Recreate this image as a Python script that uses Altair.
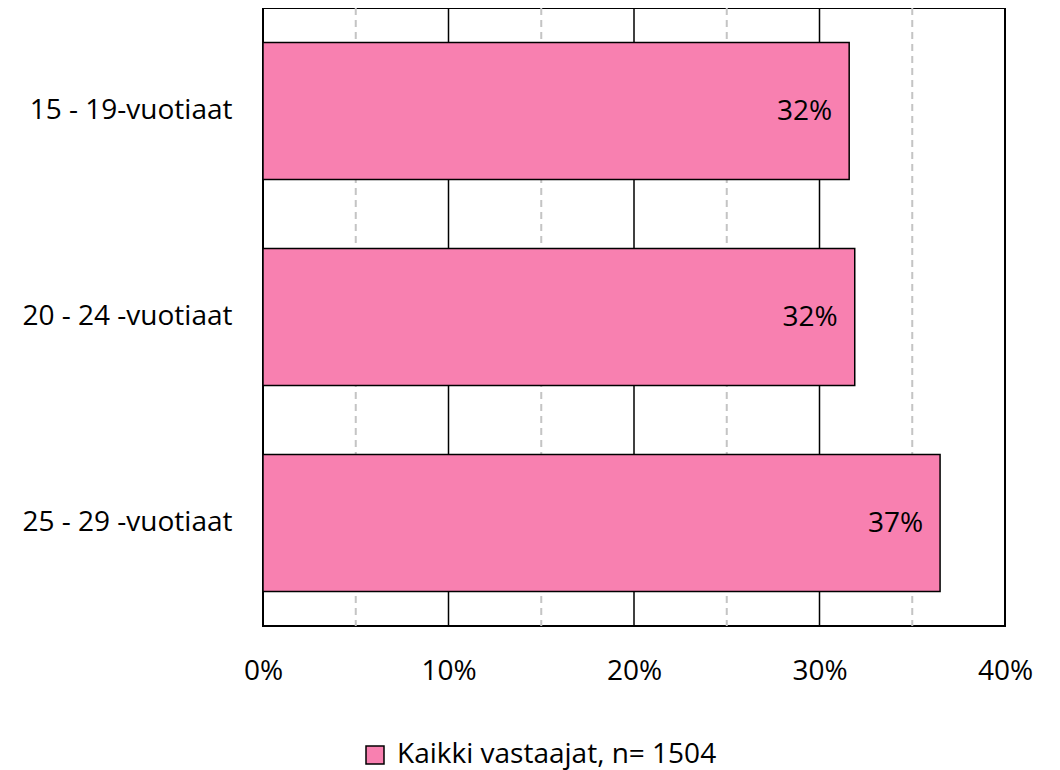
import altair as alt
import pandas as pd

categories = ["15 - 19-vuotiaat", "20 - 24 -vuotiaat", "25 - 29 -vuotiaat"]
values = [31.6, 31.9, 36.5]
labels = ["32%", "32%", "37%"]
series_name = "Kaikki vastaajat, n= 1504"
x_ticks = [0, 10, 20, 30, 40]
major_grid = [10, 20, 30]
minor_grid = [5, 15, 25, 35]

FONT = "Open Sans"
PINK = "#F880B0"

df = pd.DataFrame({"cat": categories, "val": values, "lab": labels, "series": [series_name] * 3})
major_df = pd.DataFrame({"g": major_grid})
minor_df = pd.DataFrame({"g": minor_grid})

xscale = alt.Scale(domain=[0, 40], nice=False, zero=True)
x_axis = alt.Axis(values=x_ticks, labelExpr="datum.value + '%'", domain=False, ticks=False,
                  grid=False, labelPadding=31, labelFontSize=28, labelFont=FONT,
                  labelColor="black", title=None, labelFlush=False, labelOverlap=False)
yscale = alt.Scale(domain=categories, paddingInner=0.336, paddingOuter=0.168)
y_axis = alt.Axis(domain=False, ticks=False, grid=False, labelPadding=31, labelFontSize=28,
                  labelFont=FONT, labelColor="black", title=None, labelLimit=400)

minor = alt.Chart(minor_df).mark_rule(color="#C4C4C4", strokeWidth=2, strokeDash=[7, 5]).encode(
    x=alt.X("g:Q", scale=xscale, axis=x_axis)
)
major = alt.Chart(major_df).mark_rule(color="black", strokeWidth=1.5).encode(
    x=alt.X("g:Q", scale=xscale, axis=x_axis)
)

bars = alt.Chart(df).mark_bar(stroke="black", strokeWidth=1.5).encode(
    y=alt.Y("cat:N", scale=yscale, axis=y_axis, sort=categories),
    x=alt.X("val:Q", scale=xscale, axis=x_axis),
    color=alt.Color("series:N", scale=alt.Scale(domain=[series_name], range=[PINK]),
                    legend=alt.Legend(title=None, orient="none", legendX=98, legendY=733,
                                      symbolType="square", symbolSize=324,
                                      symbolStrokeColor="black", symbolStrokeWidth=1.5,
                                      symbolOpacity=1, symbolFillColor=PINK,
                                      labelFontSize=28, labelFont=FONT, labelColor="black",
                                      labelOffset=8, labelLimit=500)),
)

text = alt.Chart(df).mark_text(align="right", baseline="middle", dx=-17, dy=1,
                               fontSize=28, font=FONT, color="black").encode(
    y=alt.Y("cat:N", scale=yscale, axis=y_axis, sort=categories),
    x=alt.X("val:Q", scale=xscale, axis=x_axis),
    text="lab:N",
)

chart = alt.layer(minor, major, bars, text).properties(
    width=742, height=618,
    background="white",
    autosize=alt.AutoSizeParams(type="none"),
    padding={"left": 255, "top": 0, "right": 30, "bottom": 170},
).configure_view(stroke="black", strokeWidth=2)

chart.save("out.html", embed_options={"renderer": "svg", "actions": False})
